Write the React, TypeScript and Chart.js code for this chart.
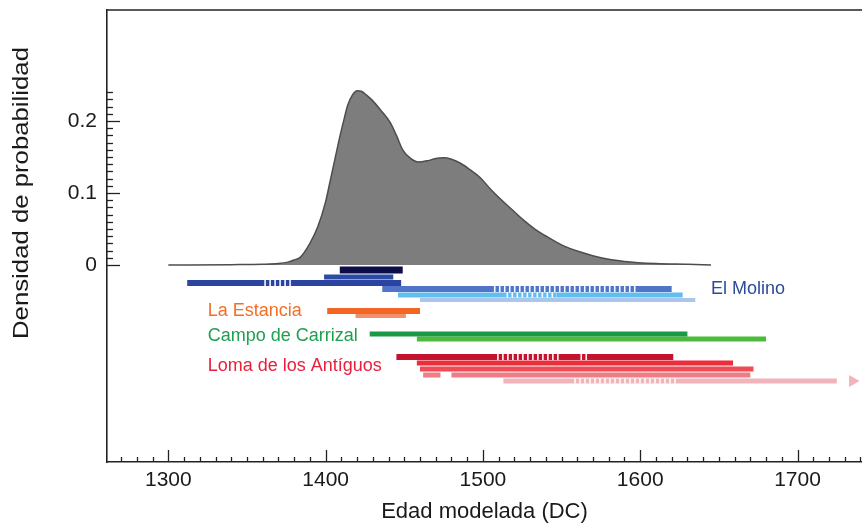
import React, { useEffect, useRef } from 'react';
import { Chart, registerables } from 'chart.js';

Chart.register(...registerables);

// ---- Summed probability density (x: year AD, y: density) ----
const densityYears = [1300, 1340, 1360, 1370, 1376, 1380, 1384, 1390, 1395, 1400, 1403, 1406, 1409, 1412, 1414, 1417, 1420, 1423, 1426, 1430, 1435, 1441, 1445, 1449, 1454, 1459, 1465, 1470, 1475, 1480, 1486, 1492, 1498, 1505, 1512, 1519, 1526, 1533, 1541, 1550, 1562, 1575, 1590, 1610, 1630, 1645];
const densityValues = [0, 0.0005, 0.001, 0.002, 0.004, 0.007, 0.011, 0.03, 0.053, 0.088, 0.118, 0.148, 0.178, 0.205, 0.222, 0.236, 0.242, 0.241, 0.236, 0.228, 0.215, 0.198, 0.18, 0.16, 0.148, 0.143, 0.145, 0.148, 0.149, 0.147, 0.141, 0.132, 0.122, 0.105, 0.09, 0.076, 0.062, 0.05, 0.039, 0.028, 0.018, 0.01, 0.005, 0.002, 0.001, 0];

// ---- Modelled date ranges (start / end year, row level) ----
const rangeIds = ['M1', 'M2', 'M3', 'M4', 'M5', 'M6', 'E1', 'E2', 'C1', 'C2', 'L1', 'L2', 'L3', 'L4a', 'L4b', 'L5'];
const rangeStart = [1409, 1399, 1312, 1436, 1446, 1460, 1401, 1419, 1428, 1458, 1445, 1458, 1460, 1462, 1480, 1513];
const rangeEnd = [1449, 1443, 1448, 1620, 1627, 1635, 1460, 1451, 1630, 1680, 1621, 1659, 1672, 1473, 1670, 1725];
const rangeLevel = [-0.0069, -0.0167, -0.025, -0.0333, -0.0417, -0.0486, -0.0639, -0.0708, -0.0958, -0.1028, -0.1278, -0.1361, -0.1444, -0.1528, -0.1528, -0.1611];

// hatched (uncertain) portions of ranges
const hatchStart = [1361, 1507, 1515, 1509, 1562, 1558];
const hatchEnd = [1380, 1598, 1547, 1549, 1568, 1624];
const hatchLevel = [-0.025, -0.0333, -0.0417, -0.1278, -0.1278, -0.1611];

// open-ended arrow
const arrowYear = [1735];
const arrowLevel = [-0.1611];

// site labels
const siteNames = ['El Molino', 'La Estancia', 'Campo de Carrizal', 'Loma de los Antíguos'];
const siteLabelYear = [1645, 1325, 1325, 1325];
const siteLabelLevel = [-0.0333, -0.0639, -0.0986, -0.1403];

// axis tick labels
const xTickLabels = ['1300', '1400', '1500', '1600', '1700'];
const yTickLabels = ['0', '0.1', '0.2'];

// ---- styles (kept separate from data) ----
const rangeColor = ['#0d0d48', '#2b4ba5', '#2a44a0', '#4f74c8', '#62bdf0', '#abc6ec', '#f26522', '#f2906a', '#1a9a45', '#4cbb3c', '#c4122f', '#ec2d3a', '#ef4a55', '#f07c86', '#f07c86', '#f2b4bb'];
const rangeThick = [7, 5, 6, 6, 5, 4, 6, 4, 5, 5, 6, 5, 5, 5, 5, 5];
const hatchThick = [6, 6, 5, 6, 6, 5];
const siteColor = ['#2c4a9a', '#f07028', '#1ea050', '#e8203c'];

const FONT = '"Liberation Sans", Arial, Helvetica, sans-serif';

const decorPlugin = {
  id: 'decor',
  afterDraw(chart: any) {
    const { ctx, chartArea, scales } = chart;
    const xs = scales.x;
    const ys = scales.y;
    ctx.save();
    ctx.strokeStyle = '#222';
    ctx.lineWidth = 1.3;
    // x ticks (inward)
    const yb = chartArea.bottom;
    for (let v = 1270; v <= 1740; v += 10) {
      const px = Math.round(xs.getPixelForValue(v)) + 0.5;
      const len = v % 100 === 0 ? 12 : 5;
      ctx.beginPath();
      ctx.moveTo(px, yb);
      ctx.lineTo(px, yb - len);
      ctx.stroke();
    }
    // y ticks (inward)
    const xl = chartArea.left;
    for (let i = 0; i <= 24; i++) {
      const py = Math.round(ys.getPixelForValue(i / 100)) + 0.5;
      const len = i % 10 === 0 ? 13 : 6;
      ctx.beginPath();
      ctx.moveTo(xl, py);
      ctx.lineTo(xl + len, py);
      ctx.stroke();
    }
    // top border
    ctx.lineWidth = 1.6;
    ctx.beginPath();
    ctx.moveTo(chartArea.left, chartArea.top);
    ctx.lineTo(chart.width, chartArea.top);
    ctx.stroke();

    // y title
    ctx.save();
    ctx.fillStyle = '#1a1a1a';
    ctx.font = `22px ${FONT}`;
    ctx.textAlign = 'center';
    ctx.textBaseline = 'middle';
    ctx.translate(22, 193);
    ctx.rotate(-Math.PI / 2);
    ctx.scale(1.17, 1);
    ctx.fillText('Densidad de probabilidad', 0, 0);
    ctx.restore();

    // site labels
    ctx.font = `18px ${FONT}`;
    ctx.textAlign = 'left';
    ctx.textBaseline = 'middle';
    siteNames.forEach((name, i) => {
      ctx.fillStyle = siteColor[i];
      ctx.fillText(name, xs.getPixelForValue(siteLabelYear[i]), ys.getPixelForValue(siteLabelLevel[i]));
    });
    ctx.restore();
  },
};

export default function App() {
  const ref = useRef<HTMLCanvasElement>(null);

  useEffect(() => {
    if (!ref.current) return;
    Chart.defaults.font.family = FONT;

    const datasets: any[] = [];
    // hatches on top
    hatchStart.forEach((s, i) => {
      datasets.push({
        type: 'line',
        data: [{ x: s, y: hatchLevel[i] }, { x: hatchEnd[i], y: hatchLevel[i] }],
        borderColor: 'rgba(255,255,255,0.95)',
        borderWidth: hatchThick[i],
        borderDash: [1.6, 3.4],
        borderCapStyle: 'butt',
        pointRadius: 0,
        fill: false,
        order: 0,
      });
    });
    datasets.push({
      type: 'line',
      data: arrowYear.map((x, i) => ({ x, y: arrowLevel[i] })),
      showLine: false,
      pointStyle: 'triangle',
      rotation: 90,
      pointRadius: 7,
      backgroundColor: '#f2b4bb',
      borderColor: '#f2b4bb',
      borderWidth: 0,
      order: 1,
    });
    rangeIds.forEach((id, i) => {
      datasets.push({
        type: 'line',
        label: id,
        data: [{ x: rangeStart[i], y: rangeLevel[i] }, { x: rangeEnd[i], y: rangeLevel[i] }],
        borderColor: rangeColor[i],
        borderWidth: rangeThick[i],
        borderCapStyle: 'butt',
        pointRadius: 0,
        fill: false,
        order: 2,
      });
    });
    datasets.push({
      type: 'line',
      label: 'density',
      data: densityYears.map((x, i) => ({ x, y: densityValues[i] })),
      borderColor: '#4d4d4d',
      borderWidth: 1.5,
      backgroundColor: '#7d7d7d',
      fill: 'origin',
      pointRadius: 0,
      cubicInterpolationMode: 'monotone',
      order: 3,
    });

    const chart = new Chart(ref.current, {
      type: 'line',
      data: { datasets },
      plugins: [decorPlugin],
      options: {
        animation: false,
        responsive: false,
        events: [],
        layout: { autoPadding: false, padding: { top: 10, right: 0, bottom: 0, left: 0 } },
        plugins: { legend: { display: false }, tooltip: { enabled: false } },
        scales: {
          x: {
            type: 'linear',
            min: 1261,
            max: 1741,
            afterFit: (s: any) => { s.height = 67; s.paddingLeft = 0; s.paddingRight = 0; },
            grid: { display: false, drawTicks: false },
            border: { display: true, color: '#222', width: 1.6 },
            ticks: {
              stepSize: 100,
              includeBounds: false,
              padding: 6,
              color: '#1a1a1a',
              font: { size: 21 },
              maxRotation: 0,
              callback: (v: any) => {
                const s = String(v);
                return xTickLabels.includes(s) ? s : '';
              },
            },
            title: {
              display: true,
              text: 'Edad modelada (DC)',
              color: '#1a1a1a',
              font: { size: 22 },
              padding: { top: 0, bottom: 4 },
            },
          },
          y: {
            type: 'linear',
            min: -0.2736,
            max: 0.3542,
            afterFit: (s: any) => { s.width = 107; s.paddingTop = 0; s.paddingBottom = 0; },
            grid: { display: false, drawTicks: false },
            border: { display: true, color: '#222', width: 1.6 },
            ticks: {
              stepSize: 0.1,
              includeBounds: false,
              padding: 10,
              color: '#1a1a1a',
              font: { size: 21 },
              callback: (v: any) => {
                const s = String(Math.round(Number(v) * 10) / 10);
                return yTickLabels.includes(s) && Number(v) > -0.05 ? s : '';
              },
            },
          },
        },
      },
    });
    return () => chart.destroy();
  }, []);

  return (
    <div style={{ position: 'absolute', left: 0, top: 0, width: 862, height: 529, background: '#fff' }}>
      <canvas ref={ref} width={862} height={529} style={{ display: 'block' }} />
    </div>
  );
}
